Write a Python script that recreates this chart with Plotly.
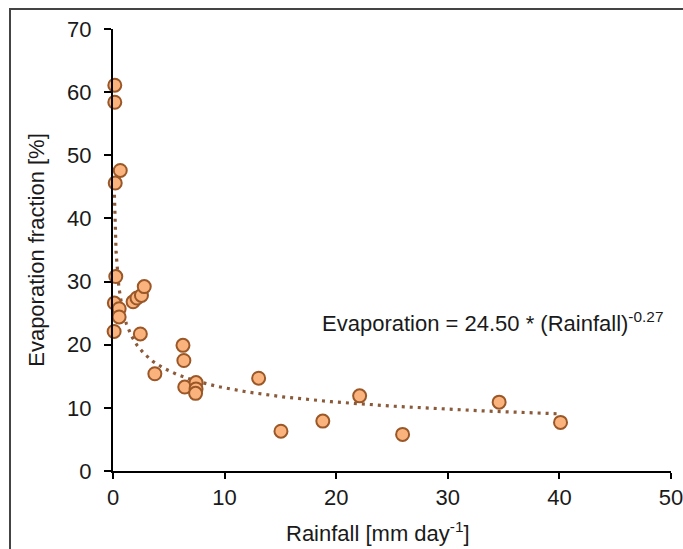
import numpy as np
import plotly.graph_objects as go

rainfall = [0.16, 0.16, 0.65, 0.2, 0.25, 0.12, 0.55, 0.55, 0.1,
            1.8, 2.15, 2.55, 2.8, 2.45, 3.75, 6.27, 6.35, 6.43,
            7.44, 7.44, 7.4, 13.05, 15.05, 18.8, 22.1, 25.95, 34.6, 40.1]
evaporation = [61.1, 58.4, 47.6, 45.6, 30.8, 26.6, 25.7, 24.4, 22.1,
               26.8, 27.4, 27.8, 29.2, 21.7, 15.4, 19.9, 17.5, 13.3,
               14.0, 13.0, 12.3, 14.7, 6.3, 7.9, 11.9, 5.8, 10.9, 7.7]

# Fitted power-law trend (from chart equation)
fit_a = 24.50
fit_b = -0.27
fit_x_min = 0.105
fit_x_max = 40.0

x_ticks = [0, 10, 20, 30, 40, 50]
y_ticks = [0, 10, 20, 30, 40, 50, 60, 70]

W, H = 683, 549
ml, mr, mt, mb = 113, 12, 29, 78
pw, ph = W - ml - mr, H - mt - mb

fx = np.geomspace(fit_x_min, fit_x_max, 400)
fy = fit_a * fx ** fit_b

font = "Liberation Sans, Arial, sans-serif"

fig = go.Figure()
fig.add_trace(go.Scatter(
    x=fx, y=fy, mode="lines",
    line=dict(color="#8A5A3A", width=3.2, dash="3px,5px"),
    hoverinfo="skip", showlegend=False,
))
fig.add_trace(go.Scatter(
    x=rainfall, y=evaporation, mode="markers",
    marker=dict(size=13, color="#FAB37D", line=dict(color="#9A5727", width=2)),
    cliponaxis=False, showlegend=False,
))

fig.add_annotation(
    x=18.55, y=23.6, xref="x", yref="y", xanchor="left", yanchor="middle",
    text="Evaporation = 24.50 * (Rainfall)<sup>-0.27</sup>",
    showarrow=False, font=dict(family=font, size=22, color="#1a1a1a"),
)

# x-axis title
fig.add_annotation(
    x=(378 - ml) / pw, y=(mt + ph - 548) / ph, xref="paper", yref="paper",
    xanchor="center", yanchor="bottom",
    text="Rainfall [mm day<sup>-1</sup>]",
    showarrow=False, font=dict(family=font, size=22, color="#1a1a1a"),
)

# outer frame
fig.add_shape(
    type="rect", xref="paper", yref="paper",
    x0=(10 - ml) / pw, x1=(W + 40 - ml) / pw,
    y0=-(H + 40 - mt - ph) / ph, y1=(mt + ph - 9) / ph,
    line=dict(color="#444444", width=2), layer="below",
)

fig.update_layout(
    width=W, height=H,
    margin=dict(l=ml, r=mr, t=mt, b=mb, autoexpand=False),
    paper_bgcolor="white", plot_bgcolor="white",
    font=dict(family=font, size=22, color="#1a1a1a"),
    xaxis=dict(
        range=[0, 50], tickvals=x_ticks, ticks="outside", ticklen=6,
        tickwidth=2, tickcolor="black", showline=True, linecolor="black",
        linewidth=2, showgrid=False, zeroline=False, automargin=False,
        tickfont=dict(size=22), ticklabeloverflow="allow",
    ),
    yaxis=dict(
        range=[0, 70], tickvals=y_ticks, ticks="outside", ticklen=7,
        tickwidth=2, tickcolor="black", showline=True, linecolor="black",
        linewidth=2, showgrid=False, zeroline=False, automargin=False,
        tickfont=dict(size=22), ticklabelstandoff=8,
        title=dict(text="Evaporation fraction [%]", font=dict(size=22), standoff=16),
    ),
)

fig.write_html("out.html")
